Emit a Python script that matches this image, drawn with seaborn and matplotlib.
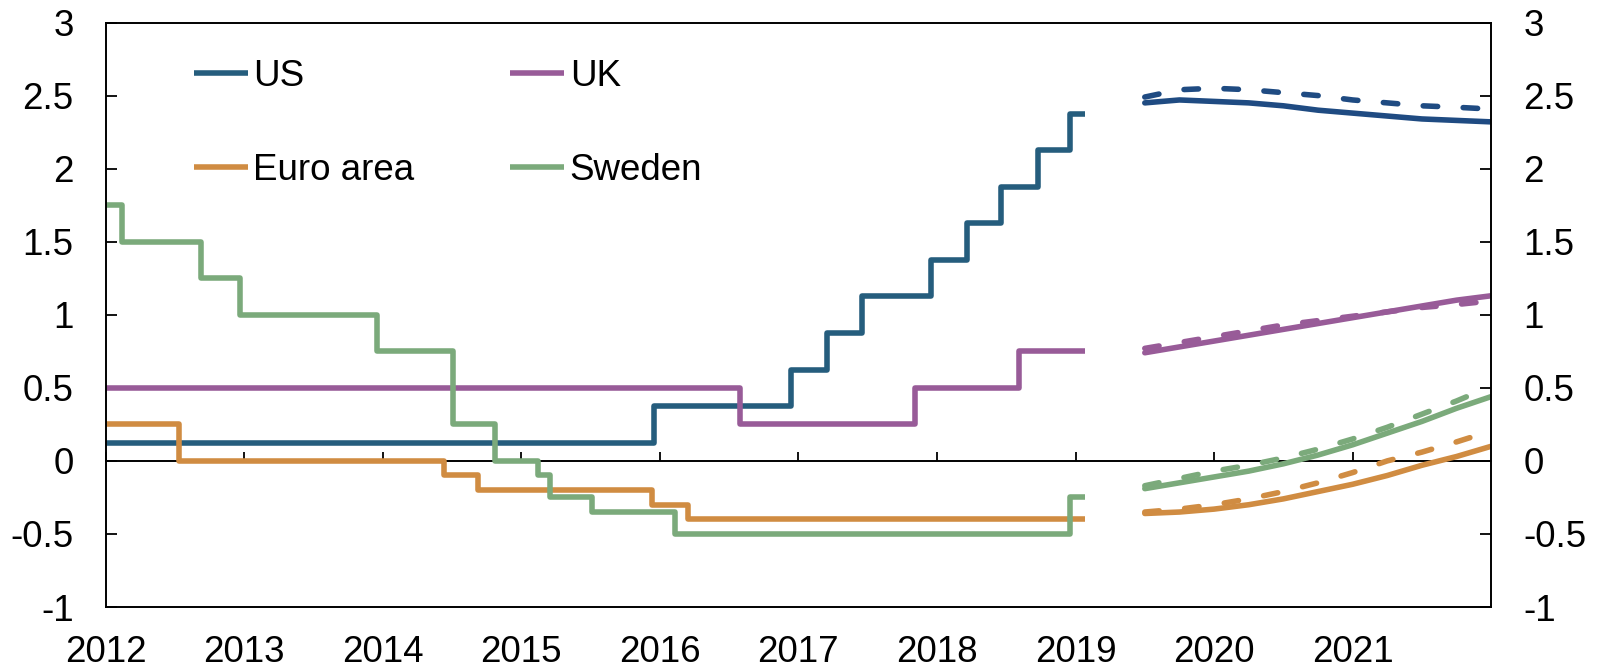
import matplotlib
matplotlib.use("Agg")
import matplotlib.pyplot as plt
import seaborn as sns
from matplotlib.ticker import FuncFormatter

# %% Data (decimal years)
us_dates = [2012.0, 2015.96, 2016.95, 2017.21, 2017.46, 2017.96, 2018.22, 2018.46, 2018.73, 2018.96, 2019.07]
us_rates = [0.125, 0.375, 0.625, 0.875, 1.125, 1.375, 1.625, 1.875, 2.125, 2.375, 2.375]

uk_dates = [2012.0, 2016.58, 2017.84, 2018.59, 2019.07]
uk_rates = [0.5, 0.25, 0.5, 0.75, 0.75]

euro_dates = [2012.0, 2012.53, 2014.44, 2014.69, 2015.94, 2016.20, 2019.07]
euro_rates = [0.25, 0.0, -0.1, -0.2, -0.3, -0.4, -0.4]

sweden_dates = [2012.0, 2012.12, 2012.69, 2012.97, 2013.96, 2014.51, 2014.81, 2015.12, 2015.21, 2015.51, 2016.11, 2018.96, 2019.07]
sweden_rates = [1.75, 1.5, 1.25, 1.0, 0.75, 0.25, 0.0, -0.1, -0.25, -0.35, -0.5, -0.25, -0.25]

# forward curves, solid (latest) and dashed (earlier)
fwd_dates = [2019.5, 2019.75, 2020.0, 2020.25, 2020.5, 2020.75, 2021.0, 2021.25, 2021.5, 2021.75, 2022.0]
fwd_dates_dash = [2019.5, 2019.75, 2020.0, 2020.25, 2020.5, 2020.75, 2021.0, 2021.25, 2021.5, 2021.75, 2021.95]

us_fwd = [2.45, 2.47, 2.46, 2.45, 2.43, 2.40, 2.38, 2.36, 2.34, 2.33, 2.32]
us_fwd_dash = [2.49, 2.54, 2.55, 2.54, 2.52, 2.50, 2.47, 2.45, 2.43, 2.42, 2.41]
uk_fwd = [0.74, 0.78, 0.82, 0.86, 0.90, 0.94, 0.98, 1.02, 1.06, 1.10, 1.13]
uk_fwd_dash = [0.77, 0.81, 0.85, 0.89, 0.93, 0.96, 0.99, 1.02, 1.05, 1.07, 1.09]
euro_fwd = [-0.36, -0.35, -0.33, -0.30, -0.26, -0.21, -0.16, -0.10, -0.03, 0.03, 0.10]
euro_fwd_dash = [-0.35, -0.33, -0.30, -0.26, -0.21, -0.15, -0.08, 0.00, 0.06, 0.13, 0.19]
sweden_fwd = [-0.19, -0.15, -0.11, -0.07, -0.02, 0.04, 0.11, 0.19, 0.27, 0.36, 0.44]
sweden_fwd_dash = [-0.17, -0.12, -0.07, -0.03, 0.02, 0.08, 0.15, 0.23, 0.32, 0.41, 0.49]

years = list(range(2012, 2022))
y_ticks = [-1, -0.5, 0, 0.5, 1, 1.5, 2, 2.5, 3]

c_us = '#255D7D'
c_us_fwd = '#1F4B82'
c_uk = '#985B98'
c_euro = '#D08C42'
c_swe = '#7BAA7B'

# %% Plot
sns.set_style("white")
plt.rcParams['font.family'] = ['Liberation Sans', 'DejaVu Sans']
plt.rcParams['text.color'] = 'black'
plt.rcParams['xtick.color'] = 'black'
plt.rcParams['ytick.color'] = 'black'

FS = 26.5
LW = 4.0

fig = plt.figure(figsize=(16, 6.68), dpi=100)
ax = fig.add_axes([0.066, 0.0913, 0.866, 0.875])

#-- step lines
steps = [("US", us_dates, us_rates, c_us),
         ("UK", uk_dates, uk_rates, c_uk),
         ("Euro area", euro_dates, euro_rates, c_euro),
         ("Sweden", sweden_dates, sweden_rates, c_swe)]
for name, d, r, c in steps:
    sns.lineplot(x=d, y=r, ax=ax, color=c, lw=LW, drawstyle='steps-post',
                 label=name, legend=False, solid_capstyle='butt')

#-- forward curves
fwd = [(us_fwd, us_fwd_dash, c_us_fwd),
       (uk_fwd, uk_fwd_dash, c_uk),
       (euro_fwd, euro_fwd_dash, c_euro),
       (sweden_fwd, sweden_fwd_dash, c_swe)]
for solid, dash, c in fwd:
    sns.lineplot(x=fwd_dates_dash, y=dash, ax=ax, color=c, lw=LW,
                 linestyle=(0, (2.6, 4.6)), dash_capstyle='round', legend=False)
    sns.lineplot(x=fwd_dates, y=solid, ax=ax, color=c, lw=LW,
                 solid_capstyle='round', legend=False)

#-- axes
ax.set_xlim(2012, 2022)
ax.set_ylim(-1, 3)
ax.set_xticks(years)
ax.set_xticklabels([str(y) for y in years])
ax.set_yticks(y_ticks)
ax.yaxis.set_major_formatter(FuncFormatter(lambda v, _: f"{v:g}"))
ax.tick_params(axis='x', length=0, pad=20, labelsize=FS, labelcolor='black')
ax.tick_params(axis='y', direction='in', length=8, width=1.3, pad=23,
               left=True, right=True, labelleft=True, labelright=True,
               labelsize=FS, labelcolor='black', color='black')
for spine in ax.spines.values():
    spine.set_color('black')
    spine.set_linewidth(1.4)

#-- zero line with year ticks
sec = ax.secondary_xaxis(0.25)
sec.set_xticks(years)
sec.tick_params(axis='x', direction='in', length=6.5, width=1.3, color='black',
                labelbottom=False, labeltop=False)
for spine in sec.spines.values():
    spine.set_linewidth(1.4)
    spine.set_color('black')

ax.set_xlabel('')
ax.set_ylabel('')

#-- legend
handles, labels = ax.get_legend_handles_labels()
order = [labels.index(n) for n in ["US", "Euro area", "UK", "Sweden"]]
ax.legend([handles[i] for i in order], [labels[i] for i in order],
          ncol=2, frameon=False, fontsize=FS, labelcolor='black',
          loc='upper left', bbox_to_anchor=(0.0635, 0.938),
          borderpad=0, borderaxespad=0, handlelength=1.47,
          handletextpad=0.15, columnspacing=2.6, labelspacing=1.6)

fig.savefig("out.png", dpi=100)
plt.close(fig)
